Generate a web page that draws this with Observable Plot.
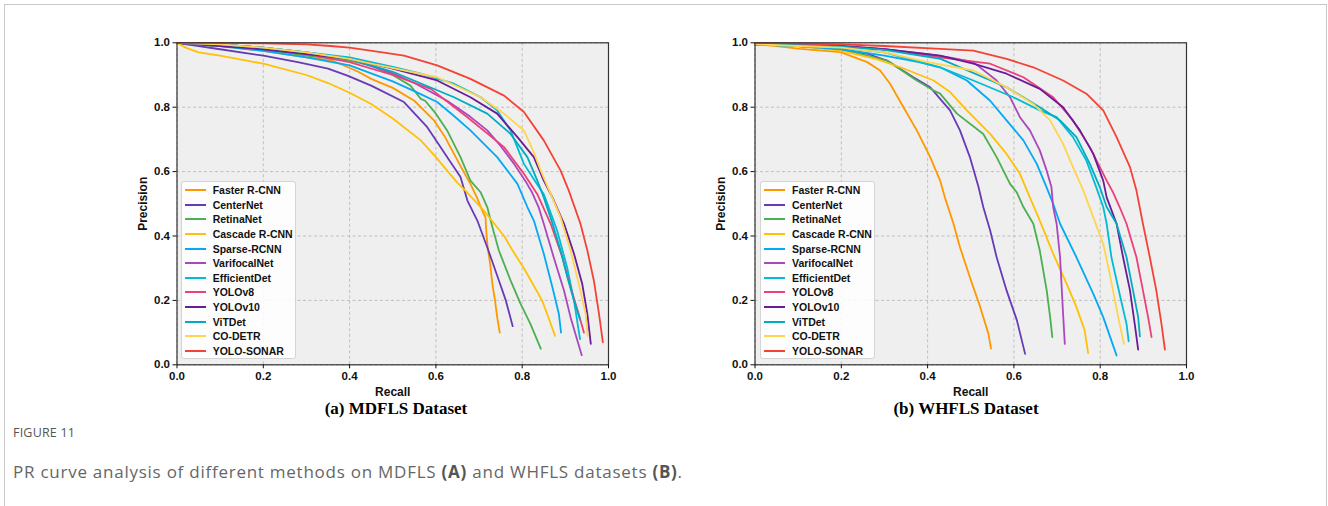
<!DOCTYPE html>
<html><head><meta charset="utf-8">
<script src="https://cdn.jsdelivr.net/npm/d3@7"></script>
<script src="https://cdn.jsdelivr.net/npm/@observablehq/plot@0.6"></script>
<style>
html,body{margin:0;padding:0;background:#fff;}
body{width:1328px;height:506px;overflow:hidden;position:relative;font-family:"Liberation Sans",Arial,sans-serif;}
.outer{position:absolute;left:4px;top:4px;width:1323px;height:560px;border:1px solid #c8c8c8;box-sizing:border-box;}
.legend{position:absolute;top:181px;width:115px;height:178px;background:rgba(255,255,255,0.85);border:1px solid #d4d4d4;border-radius:3px;box-sizing:border-box;padding-top:1px;}
.row{height:14.6px;display:flex;align-items:center;font-weight:bold;font-size:10.5px;color:#111;white-space:nowrap;}
.sw{display:inline-block;width:21px;height:2px;margin-left:3px;margin-right:7px;}
.title{position:absolute;top:399px;font-family:"Liberation Serif","Times New Roman",serif;font-weight:bold;font-size:17px;color:#000;transform:translateX(-50%);white-space:nowrap;}
.fig{position:absolute;left:13px;top:424px;font-family:"Open Sans","Noto Sans",sans-serif;font-size:12.5px;color:#555;letter-spacing:0.2px;}
.cap{position:absolute;left:13px;top:460px;font-family:"Open Sans","Noto Sans",sans-serif;font-size:17px;letter-spacing:0.75px;color:#666;white-space:nowrap;}
.cap b{color:#555;font-weight:700;}
</style>
</head><body>
<div class="outer"></div>
<div id="root"></div>
<script>
const methods = ["Faster R-CNN","CenterNet","RetinaNet","Cascade R-CNN","Sparse-RCNN","VarifocalNet","EfficientDet","YOLOv8","YOLOv10","ViTDet","CO-DETR","YOLO-SONAR"];
const colors = ["#FF9800","#673AB7","#4CAF50","#FFC107","#03A9F4","#AB47BC","#00BCD4","#EC407A","#6A1B9A","#00ACC1","#FFD54F","#F44336"];
const ticks = [0,0.2,0.4,0.6,0.8,1.0];

// (a) MDFLS: [recall, precision]
const A_faster = [[0,1.0],[0.02,0.995],[0.1,0.99],[0.2,0.975],[0.3,0.955],[0.36,0.945],[0.42,0.91],[0.45,0.888],[0.5,0.86],[0.55,0.82],[0.595,0.76],[0.62,0.71],[0.642,0.655],[0.66,0.61],[0.68,0.562],[0.695,0.52],[0.707,0.48],[0.715,0.458],[0.717,0.41],[0.72,0.365],[0.726,0.31],[0.731,0.25],[0.737,0.2],[0.742,0.148],[0.748,0.10]];
const A_center = [[0,1.0],[0.05,0.99],[0.1,0.98],[0.2,0.96],[0.28,0.94],[0.35,0.92],[0.395,0.898],[0.45,0.867],[0.526,0.816],[0.58,0.738],[0.626,0.645],[0.657,0.583],[0.673,0.51],[0.696,0.448],[0.719,0.365],[0.746,0.262],[0.762,0.20],[0.772,0.15],[0.778,0.12]];
const A_retina = [[0,1.0],[0.1,0.99],[0.2,0.98],[0.3,0.96],[0.4,0.945],[0.45,0.93],[0.5,0.9],[0.541,0.867],[0.565,0.826],[0.575,0.82],[0.6,0.78],[0.626,0.728],[0.657,0.645],[0.68,0.572],[0.704,0.535],[0.719,0.49],[0.731,0.427],[0.746,0.355],[0.773,0.262],[0.796,0.19],[0.819,0.127],[0.843,0.05]];
const A_cascade = [[0,1.0],[0.02,0.985],[0.05,0.97],[0.1,0.96],[0.2,0.935],[0.3,0.9],[0.35,0.875],[0.4,0.845],[0.45,0.81],[0.5,0.765],[0.565,0.697],[0.6,0.645],[0.626,0.603],[0.65,0.565],[0.669,0.54],[0.711,0.479],[0.758,0.40],[0.78,0.35],[0.804,0.30],[0.825,0.25],[0.846,0.20],[0.86,0.15],[0.876,0.09]];
const A_sparse = [[0,1.0],[0.1,0.99],[0.2,0.975],[0.3,0.955],[0.4,0.93],[0.5,0.88],[0.55,0.85],[0.603,0.816],[0.64,0.775],[0.68,0.728],[0.742,0.645],[0.789,0.562],[0.812,0.49],[0.827,0.448],[0.85,0.345],[0.87,0.241],[0.885,0.158],[0.89,0.10]];
const A_varifocal = [[0,1.0],[0.1,0.995],[0.2,0.985],[0.3,0.97],[0.4,0.95],[0.5,0.905],[0.55,0.875],[0.626,0.82],[0.68,0.77],[0.719,0.728],[0.75,0.68],[0.781,0.624],[0.81,0.565],[0.823,0.535],[0.838,0.49],[0.85,0.438],[0.873,0.334],[0.897,0.23],[0.912,0.148],[0.928,0.075],[0.938,0.03]];
const A_efficient = [[0,1.0],[0.1,0.995],[0.2,0.985],[0.3,0.97],[0.4,0.955],[0.45,0.94],[0.5,0.925],[0.565,0.904],[0.642,0.873],[0.704,0.831],[0.742,0.79],[0.773,0.728],[0.804,0.624],[0.83,0.57],[0.85,0.53],[0.881,0.417],[0.904,0.303],[0.92,0.20],[0.934,0.08]];
const A_yolov8 = [[0,1.0],[0.1,0.995],[0.2,0.985],[0.3,0.965],[0.4,0.94],[0.5,0.9],[0.588,0.857],[0.673,0.769],[0.758,0.676],[0.804,0.593],[0.835,0.53],[0.866,0.438],[0.893,0.334],[0.912,0.241],[0.931,0.158],[0.943,0.10]];
const A_yolov10 = [[0,1.0],[0.1,0.99],[0.2,0.98],[0.3,0.965],[0.4,0.95],[0.45,0.935],[0.5,0.92],[0.603,0.883],[0.68,0.831],[0.742,0.78],[0.789,0.707],[0.827,0.645],[0.85,0.572],[0.87,0.52],[0.897,0.438],[0.92,0.345],[0.939,0.252],[0.951,0.158],[0.959,0.065]];
const A_vitdet = [[0,1.0],[0.1,0.995],[0.2,0.985],[0.3,0.97],[0.4,0.95],[0.5,0.91],[0.642,0.831],[0.719,0.78],[0.773,0.717],[0.812,0.645],[0.835,0.572],[0.85,0.52],[0.87,0.44],[0.89,0.35],[0.905,0.27],[0.92,0.2],[0.934,0.14]];
const A_codetr = [[0,1.0],[0.1,0.995],[0.2,0.985],[0.3,0.97],[0.4,0.95],[0.45,0.935],[0.603,0.893],[0.704,0.831],[0.758,0.78],[0.804,0.728],[0.827,0.66],[0.843,0.603],[0.866,0.531],[0.889,0.458],[0.912,0.355],[0.931,0.252],[0.947,0.158],[0.952,0.09]];
const A_sonar = [[0,1.0],[0.1,1.0],[0.2,0.998],[0.3,0.995],[0.356,0.99],[0.4,0.985],[0.472,0.971],[0.526,0.96],[0.603,0.93],[0.68,0.888],[0.758,0.836],[0.804,0.785],[0.85,0.697],[0.889,0.603],[0.908,0.541],[0.935,0.438],[0.951,0.355],[0.966,0.262],[0.978,0.158],[0.987,0.07]];

// (b) WHFLS: [recall, precision]
const B_faster = [[0,0.995],[0.05,0.99],[0.105,0.981],[0.198,0.971],[0.26,0.94],[0.29,0.914],[0.313,0.873],[0.344,0.80],[0.375,0.728],[0.406,0.645],[0.429,0.572],[0.44,0.52],[0.46,0.438],[0.475,0.365],[0.498,0.272],[0.522,0.179],[0.541,0.096],[0.547,0.05]];
const B_center = [[0,0.995],[0.1,0.99],[0.182,0.981],[0.26,0.966],[0.306,0.945],[0.367,0.893],[0.406,0.862],[0.429,0.826],[0.452,0.79],[0.475,0.728],[0.498,0.645],[0.518,0.552],[0.529,0.49],[0.545,0.417],[0.56,0.334],[0.583,0.231],[0.607,0.138],[0.626,0.034]];
const B_retina = [[0,0.995],[0.1,0.99],[0.2,0.98],[0.306,0.945],[0.375,0.883],[0.414,0.852],[0.429,0.842],[0.468,0.78],[0.529,0.717],[0.56,0.645],[0.591,0.562],[0.607,0.535],[0.622,0.49],[0.645,0.438],[0.66,0.355],[0.676,0.231],[0.684,0.148],[0.689,0.086]];
const B_cascade = [[0,0.995],[0.1,0.99],[0.2,0.975],[0.28,0.95],[0.337,0.924],[0.414,0.883],[0.452,0.847],[0.491,0.79],[0.545,0.717],[0.583,0.655],[0.614,0.593],[0.637,0.52],[0.66,0.448],[0.691,0.345],[0.722,0.252],[0.745,0.179],[0.764,0.107],[0.772,0.036]];
const B_sparse = [[0,0.995],[0.1,0.99],[0.2,0.98],[0.3,0.96],[0.38,0.94],[0.429,0.924],[0.491,0.883],[0.545,0.82],[0.583,0.759],[0.622,0.697],[0.653,0.624],[0.676,0.55],[0.691,0.5],[0.707,0.438],[0.745,0.334],[0.784,0.22],[0.807,0.148],[0.826,0.075],[0.838,0.029]];
const B_varifocal = [[0,0.995],[0.1,0.993],[0.2,0.988],[0.3,0.98],[0.4,0.965],[0.45,0.955],[0.506,0.94],[0.56,0.883],[0.591,0.831],[0.614,0.769],[0.637,0.728],[0.66,0.666],[0.676,0.603],[0.687,0.552],[0.691,0.49],[0.699,0.438],[0.707,0.334],[0.714,0.158],[0.718,0.065]];
const B_efficient = [[0,0.995],[0.1,0.99],[0.2,0.985],[0.3,0.97],[0.429,0.924],[0.506,0.883],[0.599,0.831],[0.66,0.79],[0.699,0.769],[0.737,0.707],[0.768,0.634],[0.788,0.562],[0.807,0.49],[0.815,0.438],[0.826,0.334],[0.845,0.22],[0.861,0.127],[0.866,0.073]];
const B_yolov8 = [[0,0.995],[0.1,0.993],[0.2,0.99],[0.3,0.98],[0.429,0.955],[0.545,0.935],[0.622,0.893],[0.691,0.831],[0.737,0.759],[0.776,0.676],[0.815,0.572],[0.83,0.535],[0.845,0.49],[0.861,0.438],[0.884,0.334],[0.899,0.231],[0.911,0.148],[0.919,0.086]];
const B_yolov10 = [[0,0.995],[0.1,0.993],[0.2,0.99],[0.3,0.98],[0.429,0.96],[0.506,0.935],[0.583,0.904],[0.66,0.857],[0.714,0.80],[0.753,0.728],[0.784,0.655],[0.807,0.572],[0.815,0.52],[0.838,0.438],[0.853,0.334],[0.869,0.231],[0.88,0.127],[0.888,0.047]];
const B_vitdet = [[0,0.995],[0.1,0.993],[0.2,0.988],[0.3,0.978],[0.43,0.95],[0.583,0.862],[0.66,0.80],[0.707,0.759],[0.745,0.707],[0.776,0.624],[0.799,0.552],[0.815,0.49],[0.838,0.438],[0.861,0.334],[0.876,0.231],[0.888,0.148],[0.892,0.088]];
const B_codetr = [[0,0.995],[0.1,0.99],[0.2,0.985],[0.3,0.97],[0.4,0.94],[0.506,0.914],[0.583,0.862],[0.645,0.81],[0.684,0.759],[0.714,0.686],[0.737,0.614],[0.761,0.541],[0.784,0.458],[0.807,0.376],[0.822,0.283],[0.834,0.20],[0.845,0.127],[0.855,0.065]];
const B_sonar = [[0,1.0],[0.1,0.998],[0.2,0.995],[0.3,0.99],[0.429,0.981],[0.506,0.976],[0.583,0.95],[0.645,0.924],[0.714,0.883],[0.768,0.842],[0.807,0.79],[0.838,0.707],[0.869,0.614],[0.884,0.541],[0.899,0.438],[0.915,0.334],[0.93,0.231],[0.942,0.127],[0.95,0.047]];

const seriesA = [A_faster,A_center,A_retina,A_cascade,A_sparse,A_varifocal,A_efficient,A_yolov8,A_yolov10,A_vitdet,A_codetr,A_sonar];
const seriesB = [B_faster,B_center,B_retina,B_cascade,B_sparse,B_varifocal,B_efficient,B_yolov8,B_yolov10,B_vitdet,B_codetr,B_sonar];

function toRows(series){
  const rows=[];
  series.forEach((pts,i)=>pts.forEach(([r,p])=>rows.push({method:methods[i],recall:r,precision:p})));
  return rows;
}

function panel(rows){
  return Plot.plot({
    width:528, height:400,
    marginLeft:76.5, marginRight:20, marginTop:42.3, marginBottom:35.7,
    style:{fontFamily:'"Liberation Sans",Arial,sans-serif',fontSize:"11.5px",fontWeight:"bold",color:"#111",background:"transparent",overflow:"visible"},
    x:{domain:[0,1]},
    y:{domain:[0,1]},
    color:{domain:methods, range:colors},
    marks:[
      Plot.frame({fill:"#efefef", stroke:"none"}),
      Plot.gridX(ticks,{stroke:"#b4b4b4",strokeOpacity:1,strokeDasharray:"3,2.5",strokeWidth:0.8}),
      Plot.gridY(ticks,{stroke:"#b4b4b4",strokeOpacity:1,strokeDasharray:"3,2.5",strokeWidth:0.8}),
      Plot.line(rows,{x:"recall",y:"precision",z:"method",stroke:"method",strokeWidth:1.8,strokeLinejoin:"round"}),
      Plot.frame({stroke:"#333",strokeWidth:1.2}),
      Plot.axisX({ticks, tickFormat:d=>d.toFixed(1), tickSize:4, tickPadding:3, label:null, fontSize:"11.5px"}),
      Plot.axisX({ticks:[], label:"Recall", labelAnchor:"center", labelOffset:31, labelArrow:"none", fontSize:"12px"}),
      Plot.axisY({ticks, tickFormat:d=>d.toFixed(1), tickSize:4, tickPadding:3, label:null, fontSize:"11.5px"}),
      Plot.axisY({ticks:[], label:"Precision", labelAnchor:"center", labelOffset:39, labelArrow:"none", fontSize:"12px"})
    ]
  });
}

function legend(left){
  const div=document.createElement("div");
  div.className="legend"; div.style.left=left+"px";
  methods.forEach((m,i)=>{
    const row=document.createElement("div"); row.className="row";
    const sw=document.createElement("span"); sw.className="sw"; sw.style.background=colors[i];
    row.appendChild(sw); row.appendChild(document.createTextNode(m));
    div.appendChild(row);
  });
  return div;
}

const root=document.getElementById("root");
const pa=panel(toRows(seriesA)); pa.style.position="absolute"; pa.style.left="100px"; pa.style.top="0px";
const pb=panel(toRows(seriesB)); pb.style.position="absolute"; pb.style.left="678px"; pb.style.top="0px";
root.appendChild(pa); root.appendChild(pb);
root.appendChild(legend(180.7)); root.appendChild(legend(760));

const ta=document.createElement("div"); ta.className="title"; ta.style.left="396px"; ta.textContent="(a) MDFLS Dataset"; root.appendChild(ta);
const tb=document.createElement("div"); tb.className="title"; tb.style.left="966px"; tb.textContent="(b) WHFLS Dataset"; root.appendChild(tb);
const fg=document.createElement("div"); fg.className="fig"; fg.textContent="FIGURE 11"; root.appendChild(fg);
const cp=document.createElement("div"); cp.className="cap";
cp.innerHTML="PR curve analysis of different methods on MDFLS <b>(A)</b> and WHFLS datasets <b>(B)</b>.";
root.appendChild(cp);
</script>
</body></html>
